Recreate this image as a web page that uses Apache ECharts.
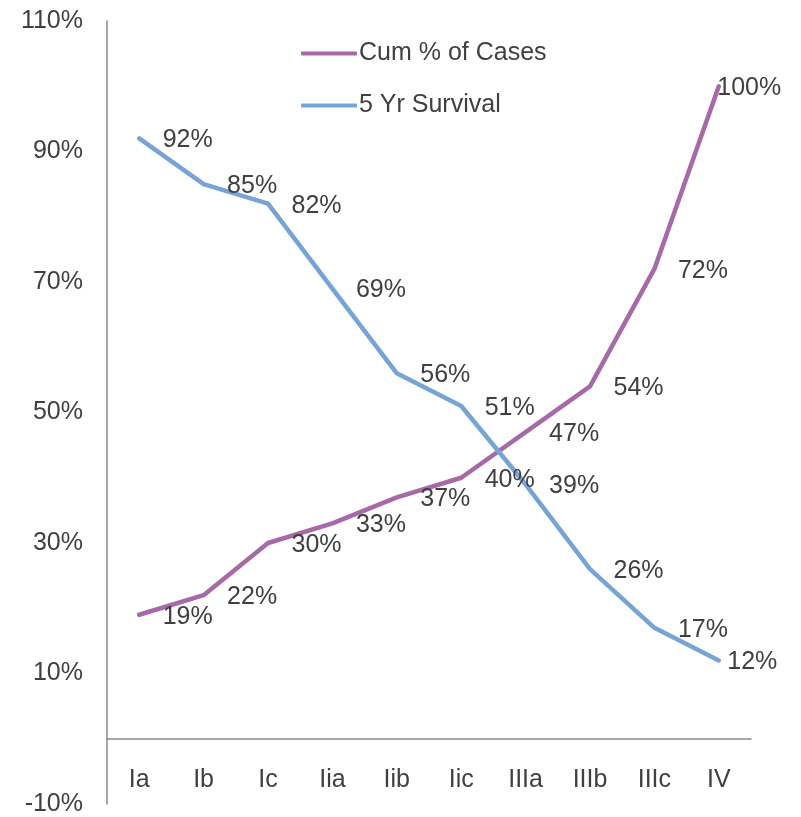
<!DOCTYPE html>
<html>
<head>
<meta charset="utf-8">
<script src="https://cdn.jsdelivr.net/npm/echarts@6/dist/echarts.min.js"></script>
<style>
  html, body { margin: 0; padding: 0; background: #fff; }
  #main { width: 801px; height: 817px; }
</style>
</head>
<body>
<div id="main"></div>
<script>
// stages and values (percent)
var stages = ['Ia', 'Ib', 'Ic', 'Iia', 'Iib', 'Iic', 'IIIa', 'IIIb', 'IIIc', 'IV'];
var cumCases = [19, 22, 30, 33, 37, 40, 47, 54, 72, 100];
var survival = [92, 85, 82, 69, 56, 51, 39, 26, 17, 12];
var yTicks = [-10, 10, 30, 50, 70, 90, 110];

var FONT = "'Liberation Sans', Arial, sans-serif";
var TEXT = '#404040';
var PURPLE = '#A66AA8';
var BLUE = '#76A5D5';

// last point label gets pulled back in like excel does at the edge
function toItems(vals, lastShift) {
    return vals.map(function (v, i) {
        var item = { value: v };
        if (i == vals.length - 1) item.label = { offset: [lastShift, 2] };
        return item;
    });
}

function lineSeries(name, color, vals, lastShift) {
    return {
        name: name,
        type: 'line',
        data: toItems(vals, lastShift),
        symbol: 'circle',
        symbolSize: 1,
        itemStyle: { color: 'rgba(0,0,0,0)' },
        lineStyle: { color: color, width: 4.5, cap: 'round', join: 'round' },
        label: {
            show: true,
            position: 'right',
            distance: 23,
            offset: [0, 2],
            color: TEXT,
            fontSize: 25,
            fontFamily: FONT,
            formatter: function (p) { return p.value + '%'; }
        },
        emphasis: { disabled: true },
        animation: false
    };
}

var chart = echarts.init(document.getElementById('main'));
chart.setOption({
    backgroundColor: '#fff',
    grid: { left: 107, right: 50, top: 21, bottom: 13, containLabel: false, outerBoundsMode: 'none' },
    legend: {
        orient: 'vertical',
        left: 296,
        top: 36,
        itemWidth: 56,
        itemHeight: 4,
        itemGap: 27,
        icon: 'roundRect',
        textStyle: { color: TEXT, fontSize: 25, fontFamily: FONT, padding: [0, 0, 0, -3] },
        data: [
            { name: 'Cum % of Cases', itemStyle: { color: PURPLE } },
            { name: '5 Yr Survival', itemStyle: { color: BLUE } }
        ]
    },
    xAxis: {
        type: 'category',
        data: stages,
        boundaryGap: true,
        axisLine: { onZero: true, lineStyle: { color: '#8a8a8a', width: 1.5 } },
        axisTick: { show: false },
        // labels sit under the zero line, not under the grid bottom
        axisLabel: { margin: -36, color: TEXT, fontSize: 25, fontFamily: FONT }
    },
    yAxis: {
        type: 'value',
        min: yTicks[0],
        max: yTicks[yTicks.length - 1],
        interval: 20,
        splitLine: { show: false },
        axisTick: { show: false },
        axisLine: { show: true, lineStyle: { color: '#8a8a8a', width: 1.5 } },
        axisLabel: {
            margin: 24,
            padding: [4, 0, 0, 0],
            color: TEXT,
            fontSize: 25,
            fontFamily: FONT,
            formatter: function (v) { return v + '%'; }
        }
    },
    series: [
        lineSeries('Cum % of Cases', PURPLE, cumCases, -25),
        lineSeries('5 Yr Survival', BLUE, survival, -15)
    ]
});
</script>
</body>
</html>
